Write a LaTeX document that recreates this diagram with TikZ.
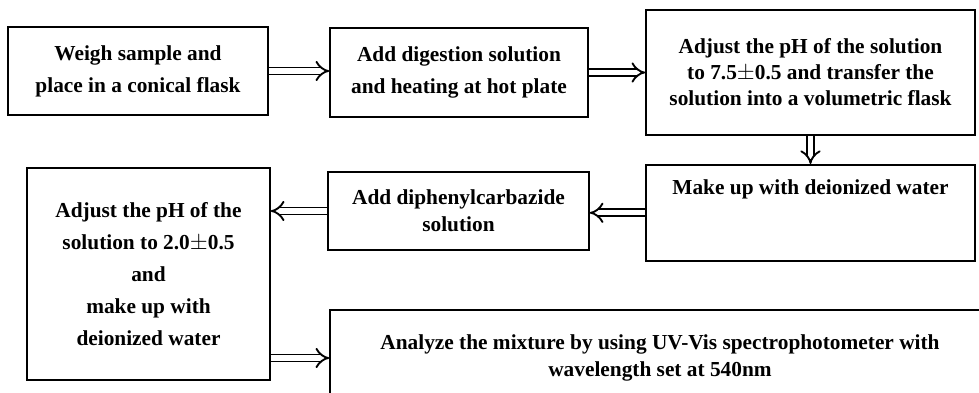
\documentclass[tikz,border=0pt]{standalone}
\usepackage{fontspec}
\setmainfont{Liberation Serif}
\usetikzlibrary{arrows.meta}

\tikzset{
  stepbox/.style={draw, line width=1.2pt, rectangle, align=center, inner sep=4pt,
    font=\bfseries\fontsize{16}{24}\selectfont},
  flow/.style={double, double distance=3.8pt, line width=1.4pt, -{Implies}}
}

\begin{document}
\begin{tikzpicture}[x=0.75pt,y=-0.75pt]
      \useasboundingbox (0,0) rectangle (979,393);

      % first row
      \node[stepbox, minimum width=195pt, minimum height=66pt] (weigh) at (138,71)
        {Weigh sample and\\place in a conical flask};
      \node[stepbox, minimum width=193.5pt, minimum height=66.75pt] (digest) at (459,72.5)
        {Add digestion solution\\and heating at hot plate};
      \node[stepbox, minimum width=246.75pt, minimum height=93.75pt,
        font=\bfseries\fontsize{16}{19.5}\selectfont] (neutral) at (810.5,72.5)
        {Adjust the pH of the solution\\to 7.5$\pm$0.5 and transfer the\\solution into a volumetric flask};

      % second row
      \node[stepbox, minimum width=246.75pt, text height=18pt, text depth=46pt,
        anchor=north] (makeup) at (810.5,164)
        {Make up with deionized water};
      \node[stepbox, minimum width=195.75pt, minimum height=58.5pt,
        font=\bfseries\fontsize{16}{20}\selectfont] (carb) at (458.5,211)
        {Add diphenylcarbazide\\solution};
      \node[stepbox, minimum width=182.25pt, minimum height=159pt] (acid) at (148.5,274)
        {Adjust the pH of the\\solution to 2.0$\pm$0.5\\and\\make up with\\deionized water};

      % last step
      \node[stepbox, minimum width=495pt, minimum height=72pt,
        font=\bfseries\fontsize{16}{20}\selectfont] (analyze) at (660,358)
        {Analyze the mixture by using UV-Vis spectrophotometer with\\wavelength set at 540nm};

      \draw[flow] (weigh) -- (weigh -| digest.west);
      \draw[flow] (digest) -- (digest -| neutral.west);
      \draw[flow] (neutral) -- (neutral |- makeup.north);
      \draw[flow] (makeup) -- (makeup -| carb.east);
      \draw[flow] (carb) -- (carb -| acid.east);
      \draw[flow] (analyze.west -| acid.east) -- (analyze.west);

\end{tikzpicture}
\end{document}
